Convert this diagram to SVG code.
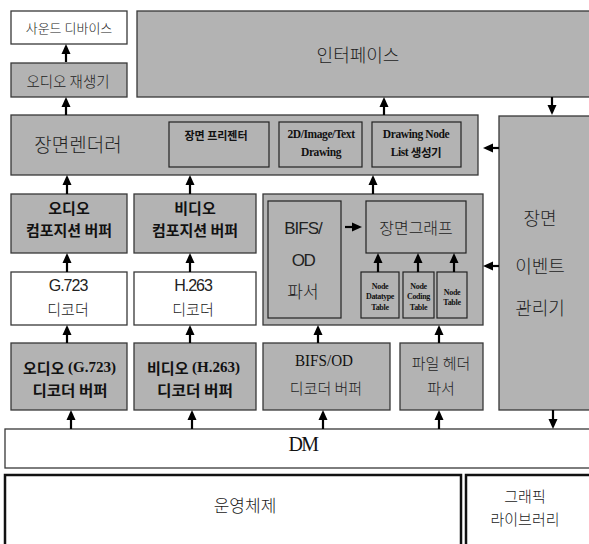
<svg xmlns="http://www.w3.org/2000/svg" width="589" height="544" viewBox="0 0 589 544">
<defs>
<style>
.g{fill:#b3b3b3;stroke:#383838;stroke-width:1.3}
.w{fill:#ffffff;stroke:#383838;stroke-width:1.3}
.in{fill:#b3b3b3;stroke:#222;stroke-width:1.2}
.thick{fill:#ffffff;stroke:#111;stroke-width:2.5}
.k{font-family:"Noto Sans CJK KR","Liberation Sans",sans-serif;font-weight:300;fill:#222;text-anchor:middle;dominant-baseline:central}
.kb{font-family:"Noto Sans CJK KR","Liberation Sans",sans-serif;font-weight:700;fill:#111;text-anchor:middle;dominant-baseline:central}
.s{font-family:"Liberation Sans",sans-serif;fill:#222;text-anchor:middle;dominant-baseline:central}
.sr{font-family:"Liberation Serif",serif;fill:#111;text-anchor:middle;dominant-baseline:central}
.srb{font-family:"Liberation Serif",serif;font-weight:700;fill:#111;text-anchor:middle;dominant-baseline:central}
.a{stroke:#000;stroke-width:2.2;fill:none;marker-end:url(#ah)}
</style>
<marker id="ah" markerUnits="userSpaceOnUse" markerWidth="10" markerHeight="10" viewBox="0 0 10 10" refX="6" refY="5" orient="auto">
<path d="M0,0.5 L10,5 L0,9.5 z" fill="#000"/>
</marker>
</defs>

<g id="sound-device"><rect class="w" x="11" y="11" width="116" height="33"/><text class="k" x="69" y="27" font-size="13">사운드 디바이스</text></g>
<g id="audio-player"><rect class="g" x="11" y="63" width="116" height="34"/><text class="k" x="68" y="80" font-size="14.5">오디오 재생기</text></g>
<g id="interface"><rect class="g" x="137" y="11" width="470" height="86"/><text class="k" x="358" y="54" font-size="18">인터페이스</text></g>

<g id="scene-renderer"><rect class="g" x="11" y="115" width="467" height="60"/><text class="k" x="78" y="143" font-size="19">장면렌더러</text></g>
<g id="scene-presenter"><rect class="in" x="169" y="122" width="100" height="45"/><text class="kb" x="216" y="135" font-size="11">장면  프리젠터</text></g>
<g id="drawing-2d"><rect class="in" x="279" y="122" width="83" height="45"/><text class="srb" x="321" y="134" font-size="11.5" letter-spacing="-0.4">2D/Image/Text</text><text class="srb" x="321" y="152" font-size="11.5" letter-spacing="-0.4">Drawing</text></g>
<g id="drawing-node-list"><rect class="in" x="372" y="122" width="89" height="45"/><text class="srb" x="416" y="134" font-size="11.5" letter-spacing="-0.4">Drawing Node</text><text class="srb" x="416" y="152" font-size="11.5" letter-spacing="-0.4">List <tspan font-family="Noto Sans CJK KR, sans-serif">생성기</tspan></text></g>

<g id="scene-event-manager"><rect class="g" x="499" y="116" width="110" height="294"/><text class="k" x="540" y="217" font-size="18">장면</text><text class="k" x="540" y="265" font-size="18">이벤트</text><text class="k" x="540" y="307" font-size="18">관리기</text></g>

<g id="audio-comp-buffer"><rect class="g" x="11" y="194" width="116" height="59"/><text class="kb" x="69" y="207" font-size="15">오디오</text><text class="kb" x="69" y="229" font-size="15">컴포지션 버퍼</text></g>
<g id="video-comp-buffer"><rect class="g" x="134" y="194" width="122" height="59"/><text class="kb" x="195" y="207" font-size="15">비디오</text><text class="kb" x="195" y="229" font-size="15">컴포지션 버퍼</text></g>

<g id="bifs-group"><rect class="g" x="263" y="194" width="220" height="131"/></g>
<g id="bifs-od-parser"><rect class="in" x="268" y="201" width="73" height="117"/><text class="s" x="303" y="228" font-size="17" letter-spacing="-1">BIFS/</text><text class="s" x="303" y="260" font-size="17" letter-spacing="-1.5">OD</text><text class="k" x="303" y="290" font-size="17">파서</text></g>
<g id="scene-graph"><rect class="in" x="366" y="201" width="100" height="52"/><text class="k" x="416" y="227" font-size="16">장면그래프</text></g>
<g id="node-datatype-table"><rect class="in" x="361" y="272" width="38" height="46"/><text class="srb" x="380" y="286" font-size="8" letter-spacing="-0.3">Node</text><text class="srb" x="380" y="296.5" font-size="8" letter-spacing="-0.4">Datatype</text><text class="srb" x="380" y="307" font-size="8" letter-spacing="-0.3">Table</text></g>
<g id="node-coding-table"><rect class="in" x="403" y="272" width="31" height="46"/><text class="srb" x="418.5" y="286" font-size="8" letter-spacing="-0.3">Node</text><text class="srb" x="418.5" y="296.5" font-size="8" letter-spacing="-0.3">Coding</text><text class="srb" x="418.5" y="307" font-size="8" letter-spacing="-0.3">Table</text></g>
<g id="node-table"><rect class="in" x="437" y="272" width="30" height="46"/><text class="srb" x="452" y="292" font-size="8" letter-spacing="-0.3">Node</text><text class="srb" x="452" y="302.5" font-size="8" letter-spacing="-0.3">Table</text></g>

<g id="g723-decoder"><rect class="w" x="11" y="272" width="116" height="53"/><text class="s" x="68" y="285" font-size="16" letter-spacing="-1">G.723</text><text class="k" x="68" y="308" font-size="15">디코더</text></g>
<g id="h263-decoder"><rect class="w" x="134" y="272" width="122" height="53"/><text class="s" x="193" y="285" font-size="16" letter-spacing="-1">H.263</text><text class="k" x="193" y="308" font-size="15">디코더</text></g>

<g id="audio-decoder-buffer"><rect class="g" x="11" y="343" width="116" height="67"/><text class="kb" x="69.5" y="367" font-size="15" textLength="93" lengthAdjust="spacingAndGlyphs">오디오 <tspan font-family="Liberation Serif, serif">(G.723)</tspan></text><text class="kb" x="70" y="389" font-size="15" textLength="75" lengthAdjust="spacingAndGlyphs">디코더 버퍼</text></g>
<g id="video-decoder-buffer"><rect class="g" x="134" y="343" width="122" height="67"/><text class="kb" x="193.5" y="367" font-size="15" textLength="93" lengthAdjust="spacingAndGlyphs">비디오 <tspan font-family="Liberation Serif, serif">(H.263)</tspan></text><text class="kb" x="195" y="389" font-size="15" textLength="76" lengthAdjust="spacingAndGlyphs">디코더 버퍼</text></g>
<g id="bifs-od-decoder-buffer"><rect class="g" x="263" y="343" width="127" height="67"/><text class="sr" x="324" y="360" font-size="16" textLength="58" lengthAdjust="spacingAndGlyphs">BIFS/OD</text><text class="k" x="326" y="387" font-size="15">디코더 버퍼</text></g>
<g id="file-header-parser"><rect class="g" x="400" y="343" width="83" height="67"/><text class="k" x="441" y="362" font-size="15">파일 헤더</text><text class="k" x="441" y="387" font-size="15">파서</text></g>

<g id="dm"><rect class="w" x="5" y="429" width="600" height="39"/><text class="sr" x="303" y="444" font-size="20" letter-spacing="-1.5">DM</text></g>
<g id="os"><rect class="thick" x="5" y="475" width="456" height="90"/><text class="k" x="245" y="504" font-size="17">운영체제</text></g>
<g id="graphics-library"><rect class="thick" x="466" y="475" width="140" height="90"/><text class="k" x="525" y="495" font-size="15">그래픽</text><text class="k" x="525" y="518" font-size="15">라이브러리</text></g>

<g id="connectors">
<line class="a" x1="66" y1="62" x2="66" y2="48"/>
<line class="a" x1="66" y1="115" x2="66" y2="101"/>
<line class="a" x1="384" y1="115" x2="384" y2="101"/>
<line class="a" x1="552" y1="97" x2="552" y2="111"/>
<line class="a" x1="499" y1="148" x2="487" y2="148"/>
<line class="a" x1="67" y1="194" x2="67" y2="179"/>
<line class="a" x1="190" y1="194" x2="190" y2="179"/>
<line class="a" x1="373" y1="194" x2="373" y2="179"/>
<line class="a" x1="67" y1="272" x2="67" y2="257"/>
<line class="a" x1="190" y1="272" x2="190" y2="257"/>
<line class="a" x1="67" y1="343" x2="67" y2="329"/>
<line class="a" x1="190" y1="343" x2="190" y2="329"/>
<line class="a" x1="345" y1="227" x2="358" y2="227"/>
<line class="a" x1="378" y1="272" x2="378" y2="257"/>
<line class="a" x1="418" y1="272" x2="418" y2="257"/>
<line class="a" x1="454" y1="272" x2="454" y2="257"/>
<line class="a" x1="499" y1="266" x2="487" y2="266"/>
<line class="a" x1="318" y1="343" x2="318" y2="329"/>
<line class="a" x1="439" y1="343" x2="439" y2="329"/>
<line class="a" x1="71" y1="429" x2="71" y2="414"/>
<line class="a" x1="192" y1="429" x2="192" y2="414"/>
<line class="a" x1="323" y1="429" x2="323" y2="414"/>
<line class="a" x1="439" y1="429" x2="439" y2="414"/>
<line class="a" x1="553" y1="410" x2="553" y2="425"/>
</g>
</svg>
